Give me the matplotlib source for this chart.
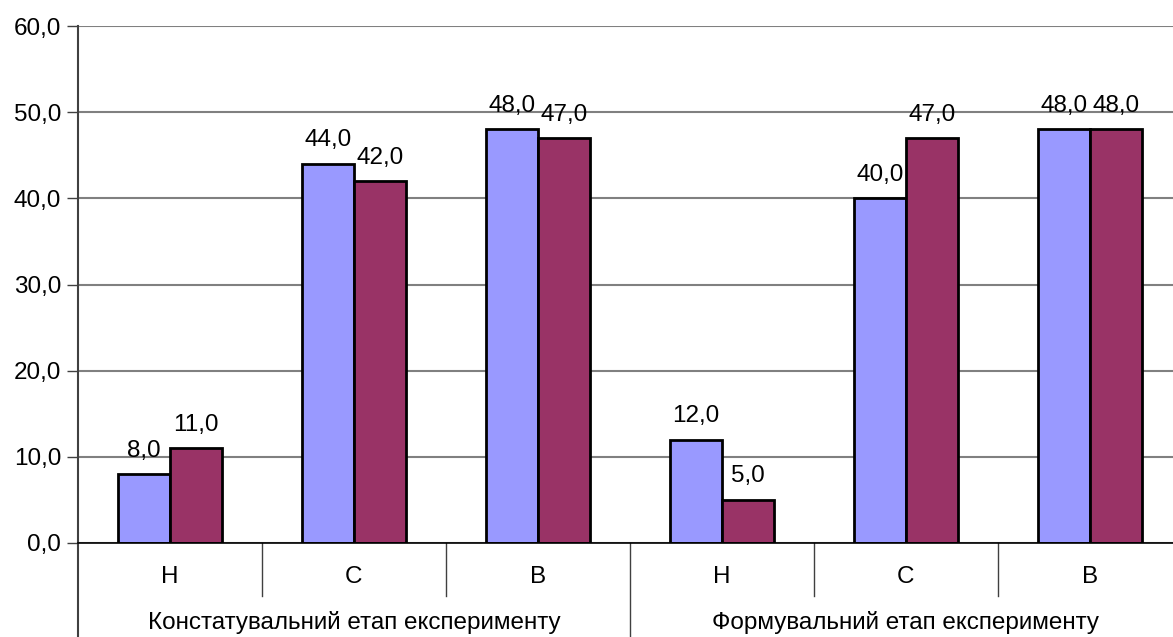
import matplotlib.pyplot as plt
import matplotlib.transforms as mtransforms
import numpy as np

plt.rcParams['font.family'] = ['Liberation Sans', 'DejaVu Sans']

levels = ['Н', 'С', 'В', 'Н', 'С', 'В']
stages = ['Констатувальний етап експерименту', 'Формувальний етап експерименту']
series1 = [8.0, 44.0, 48.0, 12.0, 40.0, 48.0]
series2 = [11.0, 42.0, 47.0, 5.0, 47.0, 48.0]

fig = plt.figure(figsize=(11.73, 6.37), dpi=100)
# plot area runs a little past the right edge of the image
ax = fig.add_axes([78 / 1173, 1 - 543 / 637, 1104 / 1173, 517 / 637])

x = np.arange(len(levels))
w = 0.283
b1 = ax.bar(x - w / 2, series1, w, color='#9999FF', edgecolor='black', linewidth=2)
b2 = ax.bar(x + w / 2, series2, w, color='#993366', edgecolor='black', linewidth=2)

for bars, vals in ((b1, series1), (b2, series2)):
    for r, v in zip(bars, vals):
        ax.annotate(('%.1f' % v).replace('.', ','), (r.get_x() + r.get_width() / 2, v),
                    xytext=(0, 9), textcoords='offset points', ha='center', va='bottom',
                    fontsize=17.5)

ax.set_xlim(-0.5, 5.5)
ax.set_ylim(0, 60)
ax.set_yticks(np.arange(0, 61, 10))
ax.set_yticklabels([('%.1f' % t).replace('.', ',') for t in np.arange(0, 61, 10)], fontsize=17.5)
ax.tick_params(axis='y', length=8, width=1, color='#404040', pad=4)
ax.set_xticks([])
ax.yaxis.grid(True, color='#808080', linewidth=1.5)
ax.set_axisbelow(True)

for s in ('top', 'right'):
    ax.spines[s].set_visible(False)
ax.spines['bottom'].set_color('black')
ax.spines['bottom'].set_linewidth(1.2)
ax.spines['left'].set_visible(False)

trans = mtransforms.blended_transform_factory(ax.transData, ax.transAxes)
# left axis line down to bottom of figure
ax.plot([-0.5, -0.5], [1, -0.18], transform=trans, color='#404040', lw=1.5, clip_on=False)
for sx in (0.5, 1.5, 3.5, 4.5):
    ax.plot([sx, sx], [0, -0.103], transform=trans, color='#404040', lw=1, clip_on=False)
ax.plot([2.5, 2.5], [0, -0.18], transform=trans, color='#404040', lw=1, clip_on=False)

for i, lab in enumerate(levels):
    ax.text(i, -0.066, lab, transform=trans, ha='center', va='center', fontsize=17.5)
for xc, lab in zip((1.0, 4.0), stages):
    ax.text(xc, -0.153, lab, transform=trans, ha='center', va='center', fontsize=17.5)

fig.savefig('out.png', dpi=100)
